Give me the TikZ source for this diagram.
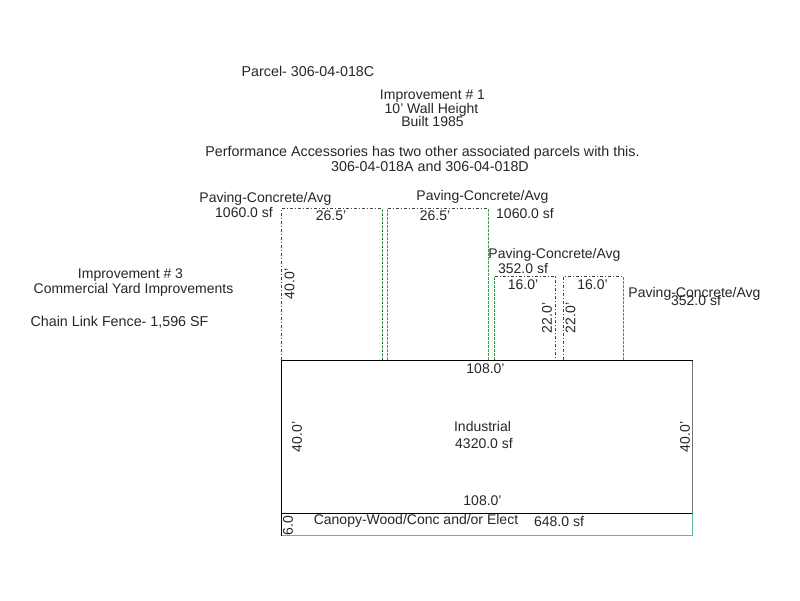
\documentclass[tikz,border=0pt]{standalone}
\usepackage{fontspec}
\setmainfont{Liberation Sans}
\usetikzlibrary{calc, positioning}
\definecolor{PaveGreen}{RGB}{50,170,75}
\definecolor{CanopyTeal}{RGB}{90,185,170}
\tikzstyle{Label}=[inner sep=0pt, font=\fontsize{14}{14}\selectfont, text=black!85]
\tikzstyle{WideLabel}=[Label, font=\fontsize{14.28}{14}\selectfont]
\tikzstyle{Side}=[Label, rotate=90]
\tikzstyle{PaveGreenLine}=[draw=PaveGreen, line width=1.2pt, dash pattern=on 3pt off 1pt]
\tikzstyle{PaveLine}=[draw=black!75, line width=1pt, dash pattern=on 3pt off 2pt on 1pt off 2pt]
\tikzstyle{PaveDots}=[draw=black!75, line width=1pt, dash pattern=on 1pt off 7pt]

\begin{document}
\begin{tikzpicture}[x=1pt, y=-1pt]
	\useasboundingbox (0, 0) rectangle (800, 600);
	% paving areas
	\draw[PaveLine] (281.5, 360) -- (281.5, 208.5) -- (382.5, 208.5);
	\draw[PaveGreenLine] (382.5, 360) -- (382.5, 208.5);
	\draw[PaveDots] (382.5, 360) -- (382.5, 208.5);
	\draw[PaveGreenLine] (387.5, 360) -- (387.5, 208.5);
	\draw[PaveLine] (387.5, 208.5) -- (488.5, 208.5);
	\draw[PaveGreenLine] (488.5, 208.5) -- (488.5, 360);
	\draw[PaveGreenLine] (494.5, 360) -- (494.5, 276.5);
	\draw[PaveDots] (494.5, 360) -- (494.5, 276.5);
	\draw[PaveLine] (494.5, 276.5) -- (555.5, 276.5) -- (555.5, 360);
	\draw[PaveLine] (563.5, 360) -- (563.5, 276.5) -- (623.5, 276.5);
	\draw[PaveGreenLine] (623.5, 276.5) -- (623.5, 360);

	% buildings
	\draw[CanopyTeal, line width=1pt] (281.5, 535.5) -- (692.5, 535.5) -- (692.5, 513.5);
	\draw[black!55, line width=1pt] (692.5, 360.5) -- (692.5, 513.5);
	\draw[black, line width=1pt] (281.5, 535.5) -- (281.5, 360.5) -- (692.5, 360.5);
	\draw[black, line width=1pt] (281.5, 513.5) -- (692, 513.5);

	% heading
	\node[WideLabel] (parcel) at (308, 71) {Parcel- 306-04-018C};
	\node[Label] (imp1) at (432.5, 96.5) {Improvement \# 1};
	\node[Label] (wall) at (431.5, 109.5) {10' Wall Height};
	\node[Label] (built) at (432.5, 121.5) {Built 1985};
	\node[WideLabel] (perf) at (422.5, 152.5) {Performance Accessories has two other associated parcels with this.};
	\node[WideLabel] (assoc) at (430, 166) {306-04-018A and 306-04-018D};

	% left notes
	\node[Label] (imp3) at (130.5, 275) {Improvement \# 3};
	\node[Label] (yard) at (133.5, 290) {Commercial Yard Improvements};
	\node[WideLabel] (fence) at (119.5, 322) {Chain Link Fence- 1,596 SF};

	% paving labels
	\node[Label] (pave1) at (265.5, 198.5) {Paving-Concrete/Avg};
	\node[Label] (area1) at (244, 212) {1060.0 sf};
	\node[Label] (pave2) at (482.5, 196.5) {Paving-Concrete/Avg};
	\node[Label] (area2) at (525, 213.5) {1060.0 sf};
	\node[Label] (pave3) at (554.5, 255) {Paving-Concrete/Avg};
	\node[Label] (area3) at (523, 268.5) {352.0 sf};
	\node[Label] (pave4) at (694.5, 293.5) {Paving-Concrete/Avg};
	\node[Label] (area4) at (696, 300) {352.0 sf};

	% dimensions
	\node[Label] (top1) at (331, 215.5) {26.5'};
	\node[Label] (top2) at (435, 215.5) {26.5'};
	\node[Label] (top3) at (523, 285) {16.0'};
	\node[Label] (top4) at (592.5, 285) {16.0'};
	\node[Side] (side1) at (289.5, 284) {40.0'};
	\node[Side] (side3) at (547, 318) {22.0'};
	\node[Side] (side4) at (570.5, 318) {22.0'};
	\node[Label] (len1) at (485.5, 369) {108.0'};
	\node[Side] (side5) at (297, 437) {40.0'};
	\node[Side] (side6) at (685, 437) {40.0'};
	\node[Label] (len2) at (482.5, 501) {108.0'};
	\node[Side] (side7) at (288, 524) {6.0'};

	% areas
	\node[Label] (use) at (482.5, 426.5) {Industrial};
	\node[Label] (area5) at (484, 443) {4320.0 sf};
	\node[Label] (canopy) at (416, 520.5) {Canopy-Wood/Conc and/or Elect};
	\node[Label] (area6) at (559, 521) {648.0 sf};
\end{tikzpicture}
\end{document}
